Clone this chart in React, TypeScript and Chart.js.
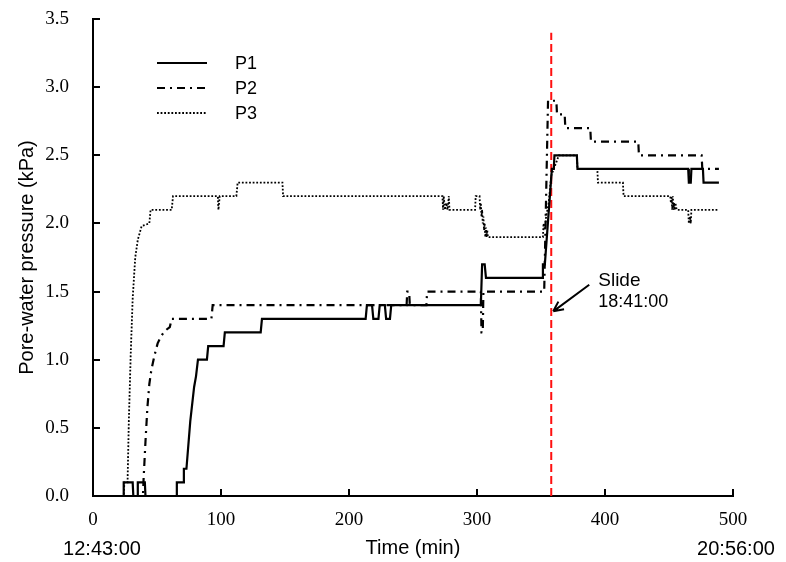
import { useEffect, useRef } from "react";
import { Chart, registerables } from "chart.js";

Chart.register(...registerables);

// Clock times for the start, the slide and the end of the record
const START_CLOCK = "12:43:00";
const SLIDE_CLOCK = "18:41:00";
const END_CLOCK = "20:56:00";

const toMinutes = (clock: string) => {
  const [h, m, s] = clock.split(":").map(Number);
  return h * 60 + m + s / 60;
};
// Minutes after the start at which the slide happened
const SLIDE_MIN = toMinutes(SLIDE_CLOCK) - toMinutes(START_CLOCK);

const X_TICKS = [0, 100, 200, 300, 400, 500];
const Y_TICKS = [0, 0.5, 1.0, 1.5, 2.0, 2.5, 3.0, 3.5];

const SERIES_NAMES = ["P1", "P2", "P3"];

// P1 – elapsed time (min) and pore-water pressure (kPa)
const P1_T = [0, 23.5, 24, 31, 31.5, 34.5, 35, 40.5, 41, 65, 65.5, 70.5, 71, 73, 76, 79, 80.5, 82, 89, 90, 102, 103, 131, 132, 213, 214, 218, 219, 223, 224, 228, 229, 232, 233, 303, 304, 306, 307, 351, 351.5, 353, 358.5, 360, 360.5, 378, 378.5, 465, 465.5, 467, 467.5, 476.5, 477, 489];
const P1_V = [0, 0, 0.1, 0.1, 0, 0, 0.1, 0.1, 0, 0, 0.1, 0.1, 0.2, 0.2, 0.55, 0.8, 0.88, 1.0, 1.0, 1.1, 1.1, 1.2, 1.2, 1.3, 1.3, 1.4, 1.4, 1.3, 1.3, 1.4, 1.4, 1.3, 1.3, 1.4, 1.4, 1.7, 1.7, 1.6, 1.6, 1.7, 1.7, 2.4, 2.4, 2.5, 2.5, 2.4, 2.4, 2.3, 2.3, 2.4, 2.4, 2.3, 2.3];

// P2
const P2_T = [0, 39, 39.5, 41, 42.5, 44, 45.5, 48, 50.5, 53, 56, 60, 61.5, 92.5, 93.5, 245, 245.5, 247, 247.5, 260.5, 261, 303, 303.5, 304.5, 305, 352.5, 355.5, 362, 362.5, 368.5, 369, 388.5, 389, 426, 426.5, 475.5, 476, 489];
const P2_V = [0, 0, 0.12, 0.4, 0.65, 0.82, 0.92, 1.03, 1.12, 1.17, 1.21, 1.24, 1.3, 1.3, 1.4, 1.4, 1.5, 1.5, 1.4, 1.4, 1.5, 1.5, 1.2, 1.2, 1.5, 1.5, 2.9, 2.9, 2.8, 2.8, 2.7, 2.7, 2.6, 2.6, 2.5, 2.5, 2.4, 2.4];

// P3
const P3_T = [0, 24, 24.5, 27, 28, 29.5, 31, 33, 35, 38, 44, 45, 61.5, 62.5, 97.5, 98, 98.5, 99, 112, 113, 148, 148.5, 273, 273.5, 274, 275, 276, 277, 278, 278.5, 298.5, 299, 302, 302.5, 303, 303.5, 304, 304.5, 305, 305.5, 306, 306.5, 307, 307.5, 308, 308.5, 351.5, 352, 353, 354, 356, 358, 360, 362, 364, 378, 378.5, 394, 394.5, 414, 414.5, 451, 451.5, 452, 452.5, 453, 453.5, 454, 454.5, 455, 456, 465, 465.5, 466.5, 467, 467.5, 489];
const P3_V = [0, 0, 0.1, 0.1, 0.55, 1.05, 1.45, 1.75, 1.88, 1.98, 2.0, 2.1, 2.1, 2.2, 2.2, 2.1, 2.15, 2.2, 2.2, 2.3, 2.3, 2.2, 2.2, 2.1, 2.2, 2.1, 2.15, 2.1, 2.2, 2.1, 2.1, 2.2, 2.2, 2.1, 2.15, 2.05, 2.1, 2.0, 2.05, 1.95, 2.0, 1.9, 1.97, 1.9, 1.95, 1.9, 1.9, 2.0, 1.95, 2.05, 2.15, 2.35, 2.4, 2.45, 2.5, 2.5, 2.4, 2.4, 2.3, 2.3, 2.2, 2.2, 2.15, 2.2, 2.1, 2.2, 2.1, 2.15, 2.1, 2.15, 2.1, 2.1, 2.0, 2.05, 2.0, 2.1, 2.1];

// Vertical extent of the slide marker (kPa)
const SLIDE_SPAN = [0, 3.4];

const SANS = "'Liberation Sans', Arial, sans-serif";
const SERIF = "'Liberation Serif', 'Times New Roman', serif";

const zip = (t: number[], v: number[]) => t.map((x, i) => ({ x, y: v[i] }));

// Short tick marks drawn on the inside of both axes
const innerTicks = {
  id: "innerTicks",
  afterDraw(chart: any) {
    const { ctx, chartArea, scales } = chart;
    const len = 7;
    ctx.save();
    ctx.strokeStyle = "#000";
    ctx.lineWidth = 2;
    ctx.beginPath();
    X_TICKS.forEach((v) => {
      const px = Math.round(scales.x.getPixelForValue(v));
      ctx.moveTo(px, chartArea.bottom);
      ctx.lineTo(px, chartArea.bottom - len);
    });
    Y_TICKS.forEach((v) => {
      const py = Math.round(scales.y.getPixelForValue(v));
      ctx.moveTo(chartArea.left, py);
      ctx.lineTo(chartArea.left + len, py);
    });
    ctx.stroke();
    ctx.restore();
  },
};

// Line-style key in the upper left of the plot
const seriesKey = {
  id: "seriesKey",
  afterDraw(chart: any) {
    const { ctx, chartArea } = chart;
    ctx.save();
    let row = 0;
    chart.data.datasets.forEach((ds: any) => {
      if (!SERIES_NAMES.includes(ds.label)) return;
      const y = chartArea.top + 44 + row * 25;
      ctx.strokeStyle = ds.borderColor;
      ctx.lineWidth = ds.borderWidth;
      ctx.setLineDash(ds.borderDash || []);
      ctx.beginPath();
      ctx.moveTo(chartArea.left + 64, y);
      ctx.lineTo(chartArea.left + 114, y);
      ctx.stroke();
      ctx.setLineDash([]);
      ctx.fillStyle = "#000";
      ctx.font = `18px ${SANS}`;
      ctx.textAlign = "left";
      ctx.textBaseline = "middle";
      ctx.fillText(ds.label, chartArea.left + 142, y + 1);
      row++;
    });
    ctx.restore();
  },
};

// Slide call-out and the clock times under the time axis
const callouts = {
  id: "callouts",
  afterDraw(chart: any) {
    const { ctx, chartArea, scales } = chart;
    const xs = scales.x.getPixelForValue(SLIDE_MIN);
    const tipX = xs + 2;
    const tipY = scales.y.getPixelForValue(1.355);
    const tailX = xs + 38;
    const tailY = scales.y.getPixelForValue(1.55);
    ctx.save();
    ctx.strokeStyle = "#000";
    ctx.lineWidth = 2;
    ctx.beginPath();
    ctx.moveTo(tailX, tailY);
    ctx.lineTo(tipX, tipY);
    const ang = Math.atan2(tipY - tailY, tipX - tailX);
    const head = 11;
    ctx.moveTo(tipX, tipY);
    ctx.lineTo(tipX - head * Math.cos(ang - 0.45), tipY - head * Math.sin(ang - 0.45));
    ctx.moveTo(tipX, tipY);
    ctx.lineTo(tipX - head * Math.cos(ang + 0.45), tipY - head * Math.sin(ang + 0.45));
    ctx.stroke();

    ctx.fillStyle = "#000";
    ctx.font = `19px ${SANS}`;
    ctx.textAlign = "left";
    ctx.textBaseline = "middle";
    ctx.fillText("Slide", xs + 47, scales.y.getPixelForValue(1.58));
    ctx.font = `18px ${SANS}`;
    ctx.fillText(SLIDE_CLOCK, xs + 47, scales.y.getPixelForValue(1.42));

    ctx.font = `20px ${SANS}`;
    ctx.textAlign = "center";
    const clockY = chartArea.bottom + 53;
    ctx.fillText(START_CLOCK, scales.x.getPixelForValue(0) + 9, clockY);
    ctx.fillText(END_CLOCK, scales.x.getPixelForValue(500) + 3, clockY);
    ctx.restore();
  },
};

export default function App() {
  const ref = useRef<HTMLCanvasElement | null>(null);

  useEffect(() => {
    const canvas = ref.current;
    if (!canvas) return;
    const line = { pointRadius: 0, tension: 0, fill: false };
    const chart = new Chart(canvas, {
      type: "line",
      data: {
        datasets: [
          { label: "P1", data: zip(P1_T, P1_V), borderColor: "#000", borderWidth: 2.2, borderDash: [], ...line },
          { label: "P2", data: zip(P2_T, P2_V), borderColor: "#000", borderWidth: 2.2, borderDash: [8, 5, 2, 5], ...line },
          { label: "P3", data: zip(P3_T, P3_V), borderColor: "#000", borderWidth: 1.8, borderDash: [1.8, 1.8], ...line },
          {
            label: "Slide",
            data: SLIDE_SPAN.map((y) => ({ x: SLIDE_MIN, y })),
            borderColor: "#ff1010",
            borderWidth: 2,
            borderDash: [8, 4],
            ...line,
          },
        ],
      },
      options: {
        responsive: false,
        animation: false,
        events: [],
        layout: { padding: { top: 19, right: 53, bottom: 0, left: 0 } },
        plugins: { legend: { display: false }, tooltip: { enabled: false } },
        scales: {
          x: {
            type: "linear",
            min: 0,
            max: 500,
            afterBuildTicks: (s: any) => {
              s.ticks = X_TICKS.map((value) => ({ value }));
            },
            afterFit: (s: any) => {
              s.height = 66;
              s.paddingLeft = 0;
              s.paddingRight = 0;
            },
            grid: { display: false, drawTicks: false },
            border: { display: true, color: "#000", width: 2 },
            ticks: {
              padding: 13,
              color: "#000",
              autoSkip: false,
              maxRotation: 0,
              font: { family: SERIF, size: 19 },
              callback: (v: any) => String(v),
            },
            title: {
              display: true,
              text: "Time (min)",
              color: "#000",
              font: { family: SANS, size: 20 },
              padding: { top: 0, bottom: 2 },
            },
          },
          y: {
            type: "linear",
            min: 0,
            max: 3.5,
            afterBuildTicks: (s: any) => {
              s.ticks = Y_TICKS.map((value) => ({ value }));
            },
            afterFit: (s: any) => {
              s.width = 93;
              s.paddingTop = 0;
              s.paddingBottom = 0;
            },
            grid: { display: false, drawTicks: false },
            border: { display: true, color: "#000", width: 2 },
            ticks: {
              padding: 24,
              color: "#000",
              autoSkip: false,
              font: { family: SERIF, size: 19 },
              callback: (v: any) => Number(v).toFixed(1),
            },
            title: {
              display: true,
              text: "Pore-water pressure (kPa)",
              color: "#000",
              font: { family: SANS, size: 20 },
              padding: { top: 15, bottom: 0 },
            },
          },
        },
      },
      plugins: [innerTicks, seriesKey, callouts],
    } as any);
    return () => chart.destroy();
  }, []);

  return (
    <div style={{ position: "absolute", left: 0, top: 0, width: 786, height: 562, background: "#fff" }}>
      <canvas ref={ref} width={786} height={562} />
    </div>
  );
}
